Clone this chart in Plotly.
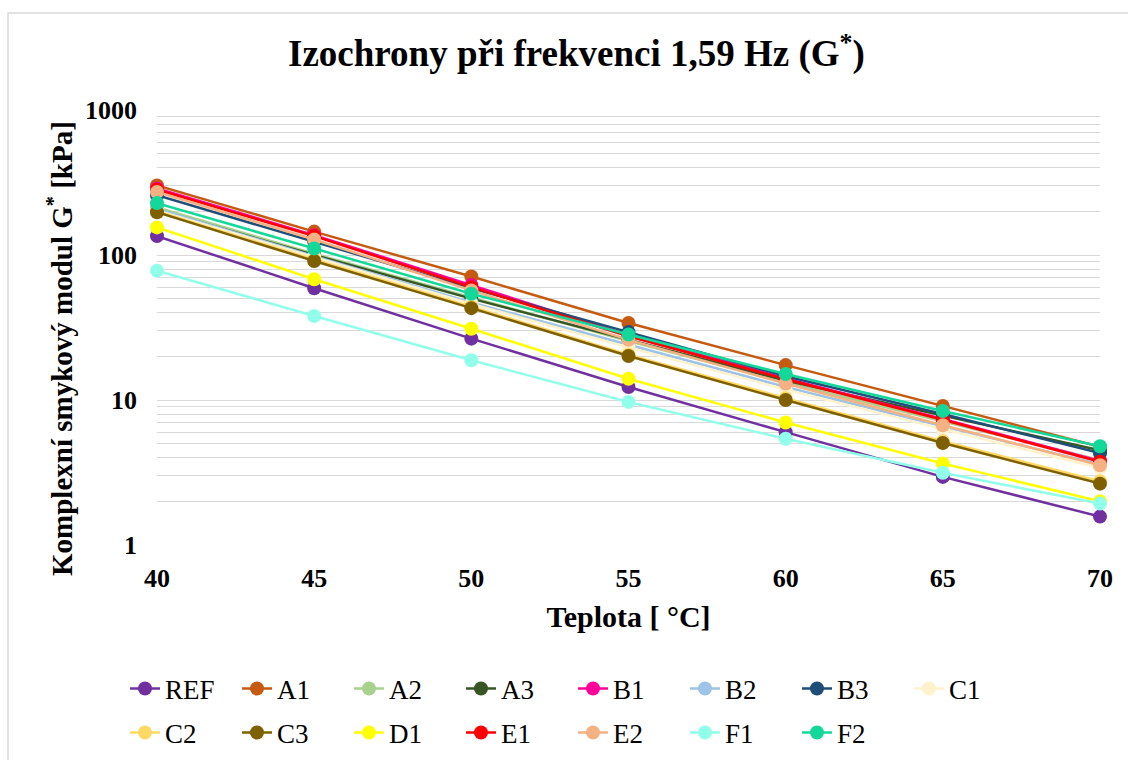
import plotly.graph_objects as go

# Temperature steps [°C]
teplota = [40, 45, 50, 55, 60, 65, 70]

# Complex shear modulus G* [kPa] at 1.59 Hz for each mix
REF = [135, 59, 26.5, 12.3, 6.0, 2.95, 1.57]
A1 = [302, 145, 71, 34, 17.4, 9.1, 4.75]
A2 = [213, 102, 51, 25.5, 13.2, 7.1, 3.85]
A3 = [205, 100, 50, 26, 13.6, 7.8, 4.5]
B1 = [288, 137, 62, 28, 14.1, 7.4, 3.8]
B2 = [208, 98, 47, 24, 12.3, 6.6, 3.6]
B3 = [258, 124, 59, 29.4, 14.6, 8.0, 4.3]
C1 = [203, 97, 46, 23, 11.8, 6.3, 3.4]
C2 = [200, 93, 44, 20.5, 10.3, 5.2, 2.75]
C3 = [197, 91, 43, 20.1, 10.0, 5.05, 2.65]
D1 = [155, 68, 31, 14, 7.0, 3.65, 2.0]
E1 = [282, 135, 60, 27.5, 13.9, 7.3, 3.75]
E2 = [272, 128, 57, 26, 13.0, 6.7, 3.55]
F1 = [78, 38, 18.8, 9.7, 5.4, 3.15, 1.93]
F2 = [228, 111, 54, 28.3, 15.1, 8.4, 4.8]

serie = [
    ("REF", REF, "#7030A0"),
    ("A1", A1, "#C55A11"),
    ("A2", A2, "#A9D18E"),
    ("A3", A3, "#375623"),
    ("B1", B1, "#FF0099"),
    ("B2", B2, "#9DC3E6"),
    ("B3", B3, "#1F4E79"),
    ("C1", C1, "#FFF2CC"),
    ("C2", C2, "#FFD966"),
    ("C3", C3, "#7F6000"),
    ("D1", D1, "#FFFF00"),
    ("E1", E1, "#FF0000"),
    ("E2", E2, "#F4B183"),
    ("F1", F1, "#91FFE9"),
    ("F2", F2, "#14D89A"),
]

FONT = "Liberation Serif"

fig = go.Figure()
for i, (name, vals, col) in enumerate(serie):
    fig.add_trace(go.Scatter(
        x=teplota, y=vals, name=name, mode="lines+markers",
        line=dict(color=col, width=2.5),
        marker=dict(color=col, size=14),
        cliponaxis=False,
        legend="legend" if i < 8 else "legend2",
    ))

# log grid: decades labelled, intermediate lines unlabelled
grid_vals, grid_text = [], []
for dec in [1, 10, 100]:
    for k in range(1, 10):
        grid_vals.append(k * dec)
        grid_text.append(str(dec) if k == 1 else "")
grid_vals.append(1000)
grid_text.append("1000")

L, R, T, B = 157, 28, 110, 215
W, H = 1128, 760
pw, ph = W - L - R, H - T - B

legend_common = dict(
    orientation="h", xanchor="left", yanchor="middle",
    font=dict(size=27, family=FONT),
    entrywidth=67, entrywidthmode="pixels", itemwidth=30,
    bgcolor="rgba(0,0,0,0)",
)

fig.update_layout(
    width=W, height=H,
    margin=dict(l=L, r=R, t=T, b=B, autoexpand=False),
    paper_bgcolor="white", plot_bgcolor="white",
    font=dict(family=FONT, color="black"),
    title=dict(
        text="<b>Izochrony při frekvenci 1,59 Hz (G<sup>*</sup>)</b>",
        x=0.511, xanchor="center", y=0.93, yanchor="middle",
        font=dict(size=37, family=FONT),
    ),
    xaxis=dict(
        range=[40, 70], dtick=5, tick0=40,
        showgrid=False, zeroline=False, showline=False,
        ticks="", ticklabelstandoff=15,
        tickfont=dict(size=26, family=FONT, weight="bold"),
        title=dict(text="<b>Teplota [ °C]</b>", font=dict(size=30, family=FONT), standoff=13),
    ),
    yaxis=dict(
        type="log", range=[0, 3],
        tickmode="array", tickvals=grid_vals, ticktext=grid_text,
        showgrid=True, gridcolor="#D9D9D9", gridwidth=1.3,
        zeroline=False, showline=False, ticks="",
        ticklabelstandoff=19,
        tickfont=dict(size=26, family=FONT, weight="bold"),
    ),
    annotations=[dict(
        text="<b>Komplexní smykový modul G<sup>*</sup> [kPa]</b>",
        textangle=-90, showarrow=False,
        xref="paper", yref="paper",
        x=(60 - L) / pw, y=(545 - 349) / ph,
        xanchor="center", yanchor="middle",
        font=dict(size=29, family=FONT),
    )],
    legend=dict(legend_common, x=(125 - L) / pw, y=(545 - 689) / ph),
    legend2=dict(legend_common, x=(125 - L) / pw, y=(545 - 733) / ph),
    shapes=[dict(
        type="rect", xref="paper", yref="paper", layer="below",
        x0=(8 - L) / pw, x1=(W + 20 - L) / pw,
        y0=-(B + 20) / ph, y1=(H - 13 - B) / ph,
        line=dict(color="#D9D9D9", width=1.5), fillcolor="rgba(0,0,0,0)",
    )],
)

fig.write_html("out.html")
